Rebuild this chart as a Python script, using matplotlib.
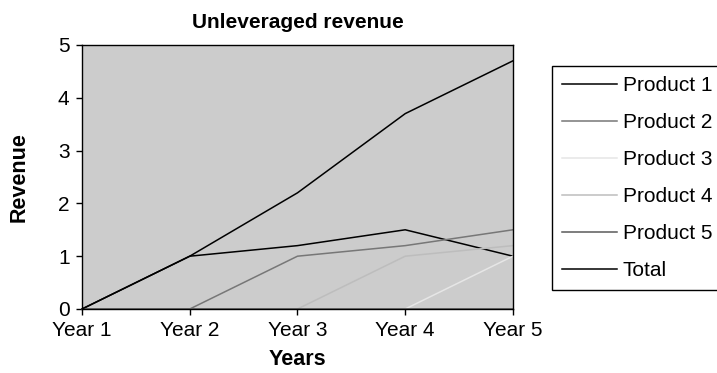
import matplotlib.pyplot as plt

plt.rcParams['font.family'] = ['Liberation Sans', 'DejaVu Sans']

years = ["Year 1", "Year 2", "Year 3", "Year 4", "Year 5"]
product1 = [0, 1, 1.2, 1.5, 1]
product2 = [0, 0, 1, 1.2, 1.5]
product3 = [0, 0, 0, 0, 1]
product4 = [0, 0, 0, 1, 1.2]
product5 = [0, 0, 0, 0, 0]
total = [0, 1, 2.2, 3.7, 4.7]

series = [
    ("Product 1", product1, "#000000"),
    ("Product 2", product2, "#777777"),
    ("Product 3", product3, "#e6e6e6"),
    ("Product 4", product4, "#bdbdbd"),
    ("Product 5", product5, "#5a5a5a"),
    ("Total", total, "#000000"),
]

fig = plt.figure(figsize=(7.17, 3.73), dpi=100)
ax = fig.add_axes([0.1144, 0.1716, 0.601, 0.7078])
ax.set_facecolor("#cccccc")

x = list(range(len(years)))
for name, vals, col in series:
    ax.plot(x, vals, color=col, linewidth=1.1, label=name, clip_on=False)

ax.set_xlim(0, 4)
ax.set_ylim(0, 5)
ax.set_xticks(x)
ax.set_xticklabels(years)
ax.set_yticks(range(6))
ax.tick_params(direction='out', length=4, width=1, labelsize=15)
ax.tick_params(axis='x', pad=5)
ax.tick_params(axis='y', pad=5)
for s in ax.spines.values():
    s.set_linewidth(1)

ax.set_title("Unleveraged revenue", fontsize=15, fontweight='bold', pad=12)
ax.set_xlabel("Years", fontsize=15.5, fontweight='bold', labelpad=6)
ax.set_ylabel("Revenue", fontsize=15.5, fontweight='bold', labelpad=20)

leg = fig.legend(loc='upper left', bbox_to_anchor=(552 / 717, 1 - 66 / 373),
                 fontsize=15, frameon=True, fancybox=False, framealpha=1,
                 edgecolor='black', handlelength=2.6, handletextpad=0.3,
                 labelspacing=0.86, borderpad=0.5, borderaxespad=0)
leg.get_frame().set_linewidth(1)

fig.savefig("out.png", dpi=100)
